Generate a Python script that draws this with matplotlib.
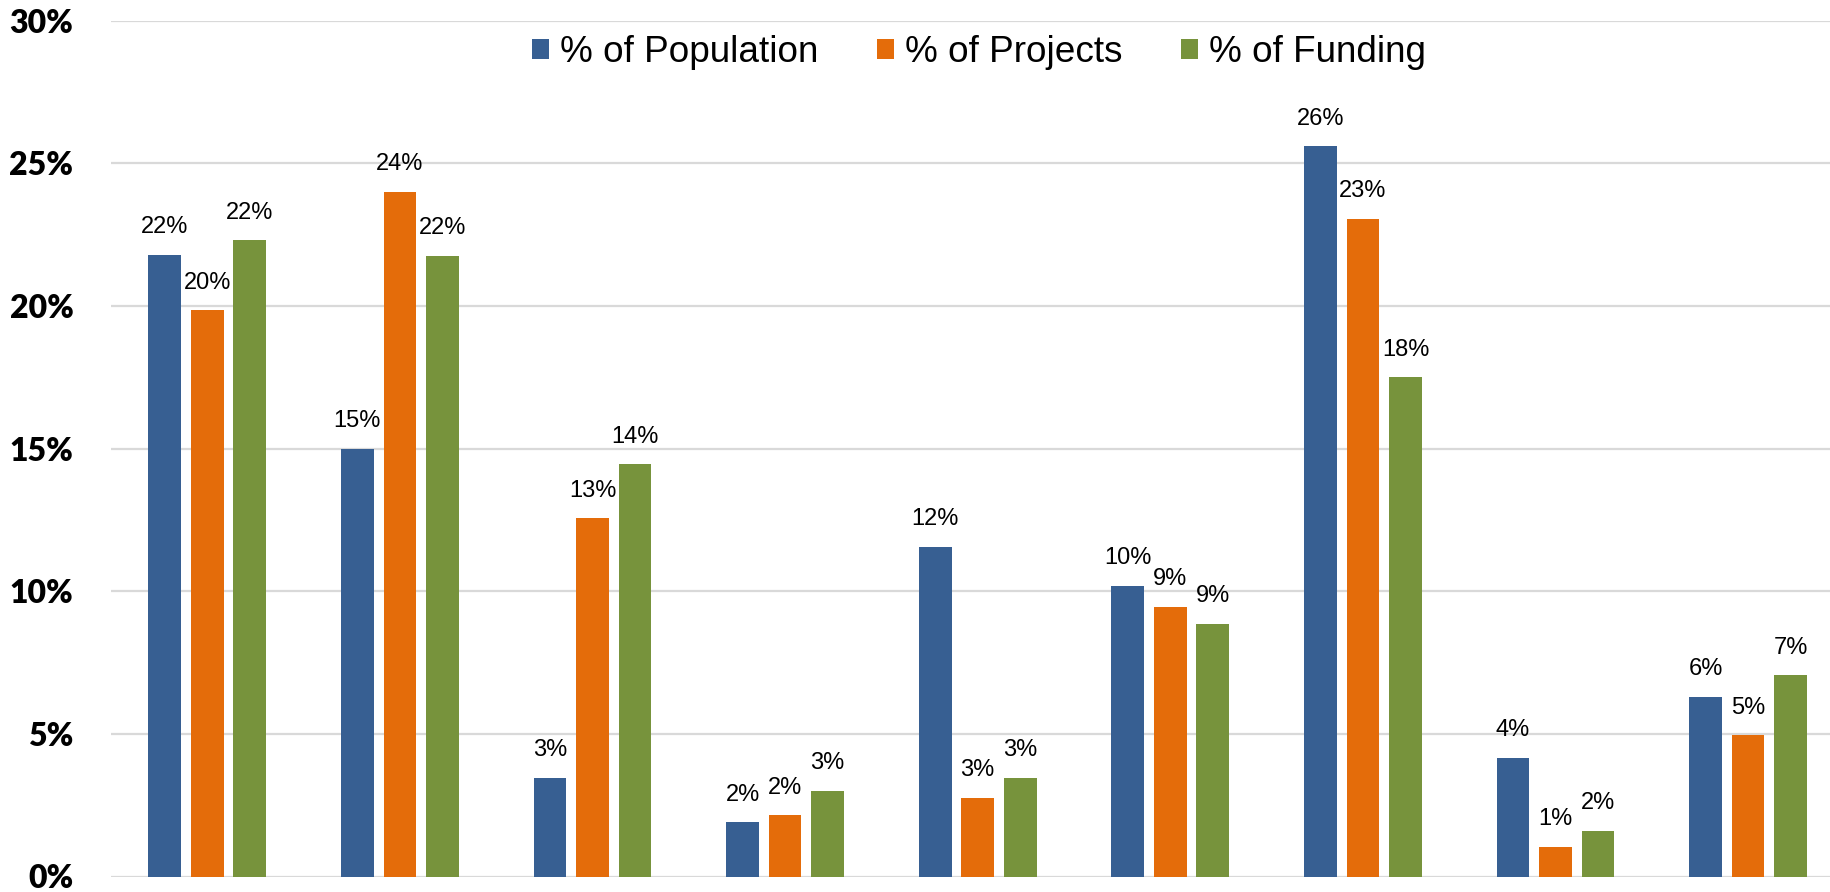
import matplotlib.pyplot as plt
import numpy as np

series = ['% of Population', '% of Projects', '% of Funding']
colors = ['#375F92', '#E46C0A', '#77933C']

population = [21.8, 15.0, 3.45, 1.9, 11.55, 10.2, 25.6, 4.15, 6.3]
projects = [19.85, 24.0, 12.55, 2.15, 2.75, 9.45, 23.05, 1.05, 4.95]
funding = [22.3, 21.75, 14.45, 3.0, 3.45, 8.85, 17.5, 1.6, 7.05]
labels_pop = ['22%', '15%', '3%', '2%', '12%', '10%', '26%', '4%', '6%']
labels_proj = ['20%', '24%', '13%', '2%', '3%', '9%', '23%', '1%', '5%']
labels_fund = ['22%', '22%', '14%', '3%', '3%', '9%', '18%', '2%', '7%']

W, H = 1831, 892
fig = plt.figure(figsize=(W / 100, H / 100), dpi=100)
ax = fig.add_axes([111 / W, 15.5 / H, 1 - 111 / W, 855.8 / H])

x = np.arange(len(population))
bw = 0.17
off = 0.221
data = [population, projects, funding]
labs = [labels_pop, labels_proj, labels_fund]
for i in range(3):
    bars = ax.bar(x + (i - 1) * off, data[i], width=bw, color=colors[i],
                  label=series[i], zorder=3)
    for b, t in zip(bars, labs[i]):
        ax.annotate(t, (b.get_x() + b.get_width() / 2, b.get_height()),
                    xytext=(0, 12), textcoords='offset points',
                    ha='center', va='bottom', fontsize=17,
                    family='Liberation Sans', zorder=4)

ax.set_ylim(0, 30)
ax.set_xlim(-0.5, -0.5 + 1720 / 192.6)
ax.set_yticks(range(0, 31, 5))
ax.set_yticklabels([f'{v}%' for v in range(0, 31, 5)], fontsize=23,
                   fontweight='heavy', family='Lato')
ax.tick_params(axis='y', length=0, pad=27)
ax.set_xticks([])
ax.grid(axis='y', color='#d9d9d9', linewidth=1.6, zorder=0)
for s in ax.spines.values():
    s.set_visible(False)

cx = (979 - 111) / 1720
ax.legend(loc='center', bbox_to_anchor=(cx, 0.963), ncol=3, frameon=False,
          prop={'family': 'Liberation Sans', 'size': 26.6},
          handlelength=0.45, handleheight=0.45, handletextpad=0.3,
          columnspacing=1.6)

fig.savefig('out.png', dpi=100)
